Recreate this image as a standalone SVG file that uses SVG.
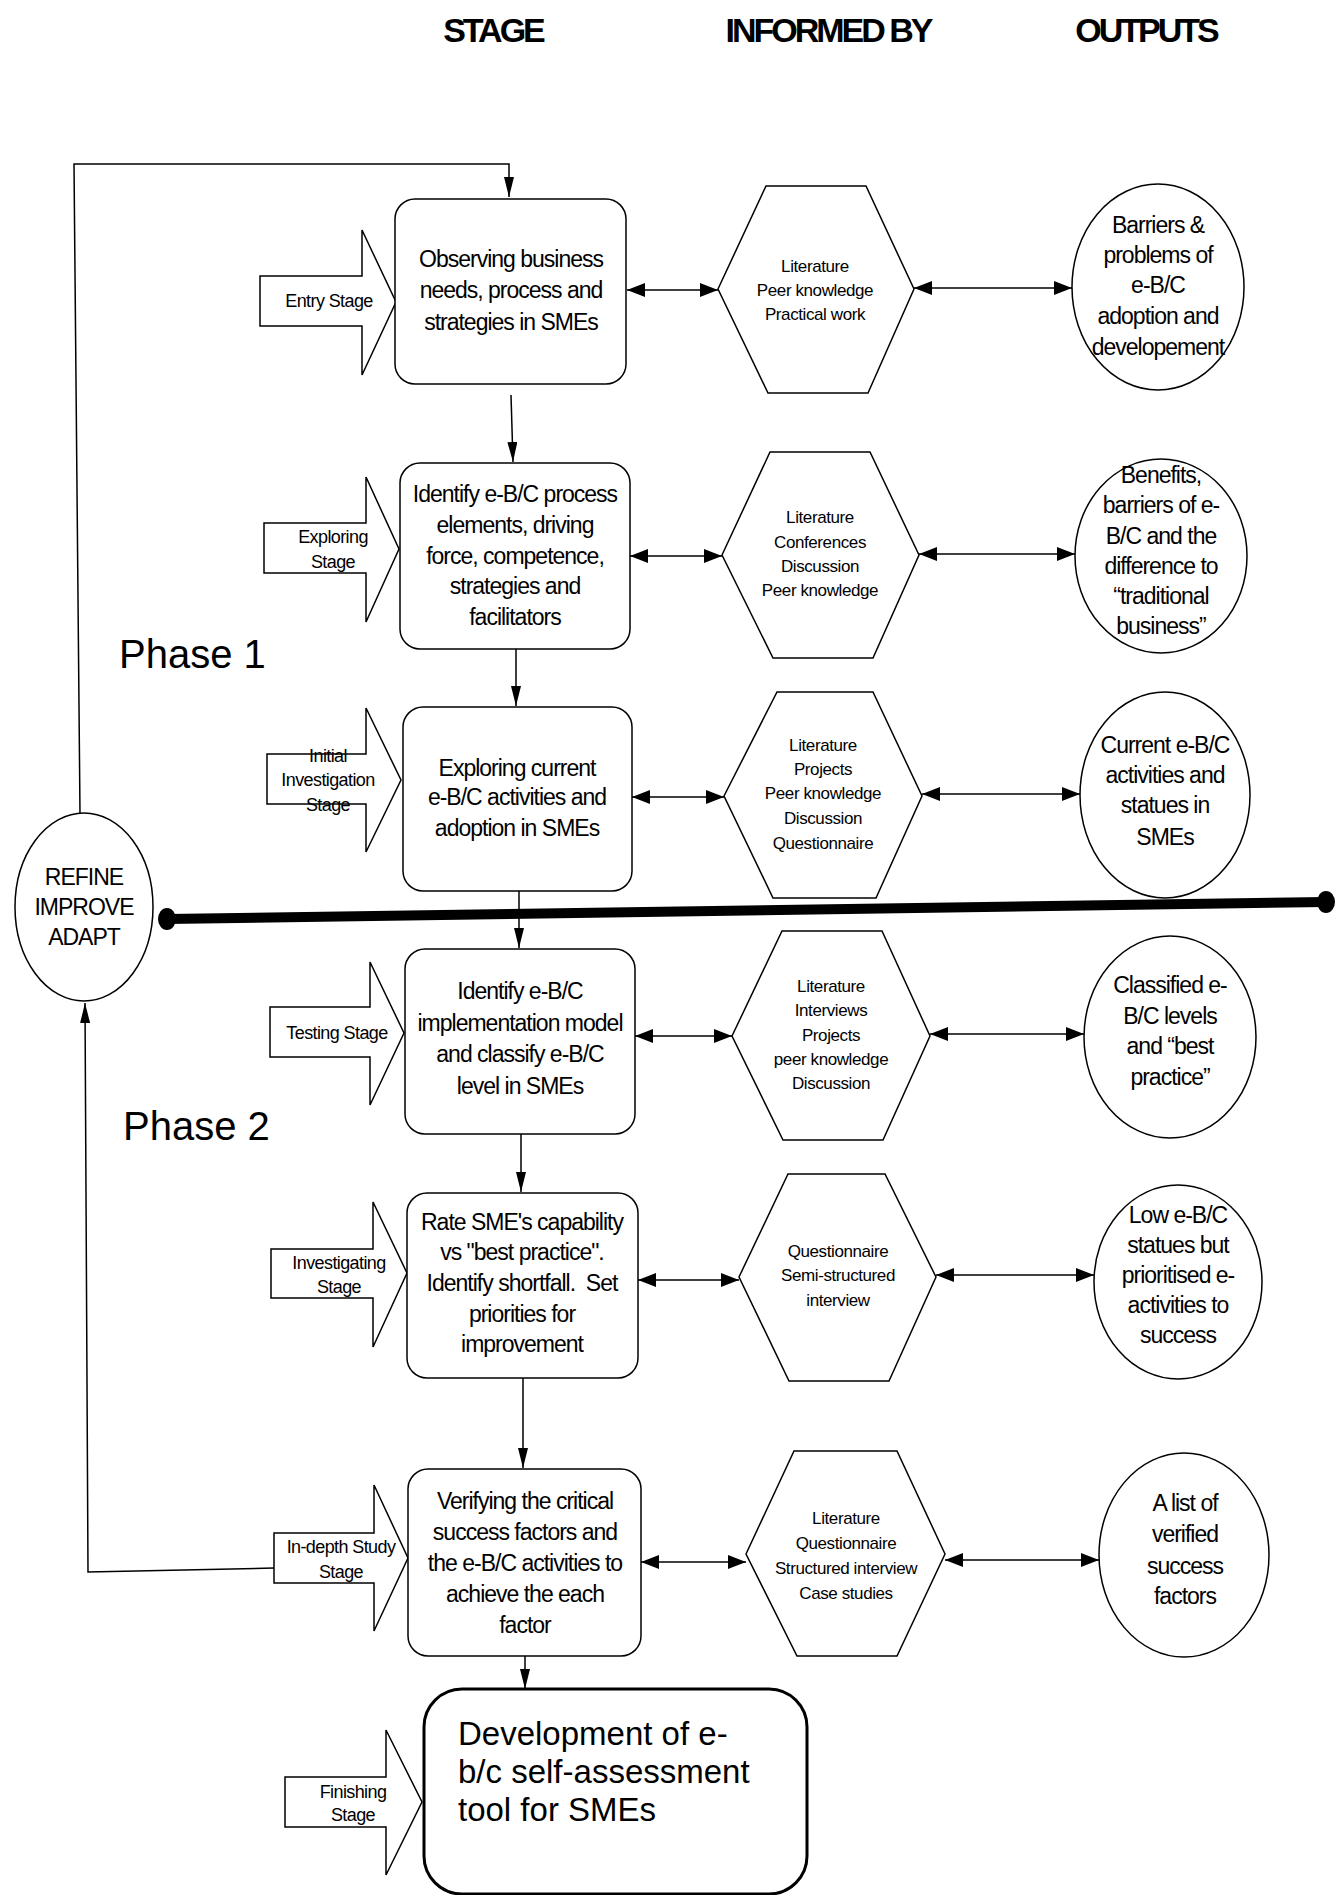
<svg xmlns="http://www.w3.org/2000/svg" width="1336" height="1895" viewBox="0 0 1336 1895">
<style>
text{font-family:"Liberation Sans",Arial,sans-serif;fill:#000}
.hd{font-size:34px;font-weight:bold;letter-spacing:-3px;text-anchor:middle}
.bx{font-size:23px;letter-spacing:-1px;text-anchor:middle}
.hx{font-size:17px;letter-spacing:-0.4px;text-anchor:middle}
.st{font-size:18px;letter-spacing:-0.6px;text-anchor:middle}
.ph{font-size:40px}
.fn{font-size:33px}
.shape{fill:#fff;stroke:#000;stroke-width:1.5}
.ln{fill:none;stroke:#000;stroke-width:1.5}
</style>
<defs>
<marker id="ah" viewBox="0 0 18 14" refX="18" refY="7" markerWidth="18" markerHeight="14" markerUnits="userSpaceOnUse" orient="auto-start-reverse"><path d="M0,0 L18,7 L0,14 z" fill="#000"/></marker>
<marker id="av" viewBox="0 0 20 10" refX="20" refY="5" markerWidth="20" markerHeight="10" markerUnits="userSpaceOnUse" orient="auto"><path d="M0,0 L20,5 L0,10 z" fill="#000"/></marker>
</defs>
<rect width="1336" height="1895" fill="#fff"/>

<g id="headers">
<text class="hd" x="493" y="42">STAGE</text>
<text class="hd" x="828" y="42">INFORMED BY</text>
<text class="hd" x="1146" y="42">OUTPUTS</text>
</g>

<g id="connectors">
<path class="ln" d="M80,814 L74,164 L509,164 L509,197" marker-end="url(#av)"/>
<path class="ln" d="M274,1568 L88,1572 L85,1003" marker-end="url(#av)"/>
<path class="ln" d="M511,395 L513,462" marker-end="url(#av)"/>
<path class="ln" d="M516,649 L516,706" marker-end="url(#av)"/>
<path class="ln" d="M519,891 L519,948" marker-end="url(#av)"/>
<path class="ln" d="M521,1134 L521,1192" marker-end="url(#av)"/>
<path class="ln" d="M523,1378 L523,1468" marker-end="url(#av)"/>
<path class="ln" d="M525,1656 L525,1689" marker-end="url(#av)"/>
<path class="ln" d="M627,290 L718,290" marker-start="url(#ah)" marker-end="url(#ah)"/>
<path class="ln" d="M914,288 L1072,288" marker-start="url(#ah)" marker-end="url(#ah)"/>
<path class="ln" d="M630,556 L722,556" marker-start="url(#ah)" marker-end="url(#ah)"/>
<path class="ln" d="M919,554 L1075,554" marker-start="url(#ah)" marker-end="url(#ah)"/>
<path class="ln" d="M632,797 L724,797" marker-start="url(#ah)" marker-end="url(#ah)"/>
<path class="ln" d="M922,794 L1080,794" marker-start="url(#ah)" marker-end="url(#ah)"/>
<path class="ln" d="M635,1036 L732,1036" marker-start="url(#ah)" marker-end="url(#ah)"/>
<path class="ln" d="M930,1034 L1084,1034" marker-start="url(#ah)" marker-end="url(#ah)"/>
<path class="ln" d="M638,1280 L739,1280" marker-start="url(#ah)" marker-end="url(#ah)"/>
<path class="ln" d="M936,1275 L1094,1275" marker-start="url(#ah)" marker-end="url(#ah)"/>
<path class="ln" d="M641,1562 L746,1562" marker-start="url(#ah)" marker-end="url(#ah)"/>
<path class="ln" d="M945,1560 L1099,1560" marker-start="url(#ah)" marker-end="url(#ah)"/>
</g>

<g id="phase-divider">
<line x1="167" y1="919" x2="1326" y2="902" stroke="#000" stroke-width="10"/>
<ellipse cx="167" cy="919" rx="9" ry="11" fill="#000"/>
<ellipse cx="1326" cy="902" rx="9" ry="11" fill="#000"/>
</g>

<g id="phase-labels">
<text class="ph" x="119" y="668">Phase 1</text>
<text class="ph" x="123" y="1140">Phase 2</text>
</g>

<g id="refine">
<ellipse class="shape" cx="84" cy="907" rx="69" ry="94"/>
<text class="bx" x="84" y="885">REFINE</text>
<text class="bx" x="84" y="915">IMPROVE</text>
<text class="bx" x="84" y="945">ADAPT</text>
</g>

<g id="stage-entry">
<polygon class="shape" points="260,276 362,276 362,230 396,302 362,375 362,326 260,326"/>
<text class="st" x="329" y="307">Entry Stage</text>
</g>
<g id="stage-exploring">
<polygon class="shape" points="264,523 366,523 366,477 399,549 366,622 366,573 264,573"/>
<text class="st" x="333" y="543">Exploring</text>
<text class="st" x="333" y="568">Stage</text>
</g>
<g id="stage-initial">
<polygon class="shape" points="267,754 366,754 366,708 401,780 366,852 366,804 267,804"/>
<text class="st" x="328" y="762">Initial</text>
<text class="st" x="328" y="786">Investigation</text>
<text class="st" x="328" y="811">Stage</text>
</g>
<g id="stage-testing">
<polygon class="shape" points="270,1007 370,1007 370,962 404,1033 370,1105 370,1057 270,1057"/>
<text class="st" x="337" y="1039">Testing Stage</text>
</g>
<g id="stage-investigating">
<polygon class="shape" points="271,1249 373,1249 373,1202 407,1273 373,1347 373,1298 271,1298"/>
<text class="st" x="339" y="1269">Investigating</text>
<text class="st" x="339" y="1293">Stage</text>
</g>
<g id="stage-indepth">
<polygon class="shape" points="274,1533 374,1533 374,1485 408,1558 374,1631 374,1583 274,1583"/>
<text class="st" x="341" y="1553">In-depth Study</text>
<text class="st" x="341" y="1578">Stage</text>
</g>
<g id="stage-finishing">
<polygon class="shape" points="285,1777 386,1777 386,1730 422,1802 386,1875 386,1827 285,1827"/>
<text class="st" x="353" y="1798">Finishing</text>
<text class="st" x="353" y="1821">Stage</text>
</g>

<g id="box1">
<rect class="shape" x="395" y="199" width="231" height="185" rx="20"/>
<text class="bx" x="511" y="267">Observing business</text>
<text class="bx" x="511" y="298">needs, process and</text>
<text class="bx" x="511" y="330">strategies in SMEs</text>
</g>
<g id="box2">
<rect class="shape" x="400" y="463" width="230" height="186" rx="20"/>
<text class="bx" x="515" y="502">Identify e-B/C process</text>
<text class="bx" x="515" y="533">elements, driving</text>
<text class="bx" x="515" y="564">force, competence,</text>
<text class="bx" x="515" y="594">strategies and</text>
<text class="bx" x="515" y="625">facilitators</text>
</g>
<g id="box3">
<rect class="shape" x="403" y="707" width="229" height="184" rx="20"/>
<text class="bx" x="517" y="776">Exploring current</text>
<text class="bx" x="517" y="805">e-B/C activities and</text>
<text class="bx" x="517" y="836">adoption in SMEs</text>
</g>
<g id="box4">
<rect class="shape" x="405" y="949" width="230" height="185" rx="20"/>
<text class="bx" x="520" y="999">Identify e-B/C</text>
<text class="bx" x="520" y="1031">implementation model</text>
<text class="bx" x="520" y="1062">and classify e-B/C</text>
<text class="bx" x="520" y="1094">level in SMEs</text>
</g>
<g id="box5">
<rect class="shape" x="407" y="1193" width="231" height="185" rx="20"/>
<text class="bx" x="522" y="1230">Rate SME's capability</text>
<text class="bx" x="522" y="1260">vs "best practice".</text>
<text class="bx" x="522" y="1291" xml:space="preserve">Identify shortfall.  Set</text>
<text class="bx" x="522" y="1322">priorities for</text>
<text class="bx" x="522" y="1352">improvement</text>
</g>
<g id="box6">
<rect class="shape" x="408" y="1469" width="233" height="187" rx="20"/>
<text class="bx" x="525" y="1509">Verifying the critical</text>
<text class="bx" x="525" y="1540">success factors and</text>
<text class="bx" x="525" y="1571">the e-B/C activities to</text>
<text class="bx" x="525" y="1602">achieve the each</text>
<text class="bx" x="525" y="1633">factor</text>
</g>
<g id="box-final">
<rect x="424" y="1689" width="383" height="205" rx="38" fill="#fff" stroke="#000" stroke-width="3"/>
<text class="fn" x="458" y="1745">Development of e-</text>
<text class="fn" x="458" y="1783">b/c self-assessment</text>
<text class="fn" x="458" y="1821">tool for SMEs</text>
</g>

<g id="hex1">
<polygon class="shape" points="718,289 766,186 866,186 914,289 868,393 768,393"/>
<text class="hx" x="815" y="272">Literature</text>
<text class="hx" x="815" y="296">Peer knowledge</text>
<text class="hx" x="815" y="320">Practical work</text>
</g>
<g id="hex2">
<polygon class="shape" points="722,555 770,452 870,452 919,555 873,658 773,658"/>
<text class="hx" x="820" y="523">Literature</text>
<text class="hx" x="820" y="548">Conferences</text>
<text class="hx" x="820" y="572">Discussion</text>
<text class="hx" x="820" y="596">Peer knowledge</text>
</g>
<g id="hex3">
<polygon class="shape" points="724,796 777,692 873,692 922,796 876,898 773,898"/>
<text class="hx" x="823" y="751">Literature</text>
<text class="hx" x="823" y="775">Projects</text>
<text class="hx" x="823" y="799">Peer knowledge</text>
<text class="hx" x="823" y="824">Discussion</text>
<text class="hx" x="823" y="849">Questionnaire</text>
</g>
<g id="hex4">
<polygon class="shape" points="732,1036 782,931 882,931 930,1036 883,1140 783,1140"/>
<text class="hx" x="831" y="992">Literature</text>
<text class="hx" x="831" y="1016">Interviews</text>
<text class="hx" x="831" y="1041">Projects</text>
<text class="hx" x="831" y="1065">peer knowledge</text>
<text class="hx" x="831" y="1089">Discussion</text>
</g>
<g id="hex5">
<polygon class="shape" points="739,1277 788,1174 885,1174 936,1277 889,1381 789,1381"/>
<text class="hx" x="838" y="1257">Questionnaire</text>
<text class="hx" x="838" y="1281">Semi-structured</text>
<text class="hx" x="838" y="1306">interview</text>
</g>
<g id="hex6">
<polygon class="shape" points="746,1554 794,1451 897,1451 945,1554 897,1656 797,1656"/>
<text class="hx" x="846" y="1524">Literature</text>
<text class="hx" x="846" y="1549">Questionnaire</text>
<text class="hx" x="846" y="1574">Structured interview</text>
<text class="hx" x="846" y="1599">Case studies</text>
</g>

<g id="out1">
<ellipse class="shape" cx="1158" cy="287" rx="86" ry="103"/>
<text class="bx" x="1158" y="233">Barriers &amp;</text>
<text class="bx" x="1158" y="263">problems of</text>
<text class="bx" x="1158" y="293">e-B/C</text>
<text class="bx" x="1158" y="324">adoption and</text>
<text class="bx" x="1158" y="355">developement</text>
</g>
<g id="out2">
<ellipse class="shape" cx="1161" cy="556" rx="86" ry="97"/>
<text class="bx" x="1161" y="483">Benefits,</text>
<text class="bx" x="1161" y="513">barriers of e-</text>
<text class="bx" x="1161" y="544">B/C and the</text>
<text class="bx" x="1161" y="574">difference to</text>
<text class="bx" x="1161" y="604">“traditional</text>
<text class="bx" x="1161" y="634">business”</text>
</g>
<g id="out3">
<ellipse class="shape" cx="1165" cy="795" rx="85" ry="103"/>
<text class="bx" x="1165" y="753">Current e-B/C</text>
<text class="bx" x="1165" y="783">activities and</text>
<text class="bx" x="1165" y="813">statues in</text>
<text class="bx" x="1165" y="845">SMEs</text>
</g>
<g id="out4">
<ellipse class="shape" cx="1170" cy="1037" rx="86" ry="101"/>
<text class="bx" x="1170" y="993">Classified e-</text>
<text class="bx" x="1170" y="1024">B/C levels</text>
<text class="bx" x="1170" y="1054">and “best</text>
<text class="bx" x="1170" y="1085">practice”</text>
</g>
<g id="out5">
<ellipse class="shape" cx="1178" cy="1282" rx="84" ry="97"/>
<text class="bx" x="1178" y="1223">Low e-B/C</text>
<text class="bx" x="1178" y="1253">statues but</text>
<text class="bx" x="1178" y="1283">prioritised e-</text>
<text class="bx" x="1178" y="1313">activities to</text>
<text class="bx" x="1178" y="1343">success</text>
</g>
<g id="out6">
<ellipse class="shape" cx="1184" cy="1555" rx="85" ry="102"/>
<text class="bx" x="1185" y="1511">A list of</text>
<text class="bx" x="1185" y="1542">verified</text>
<text class="bx" x="1185" y="1574">success</text>
<text class="bx" x="1185" y="1604">factors</text>
</g>
</svg>
